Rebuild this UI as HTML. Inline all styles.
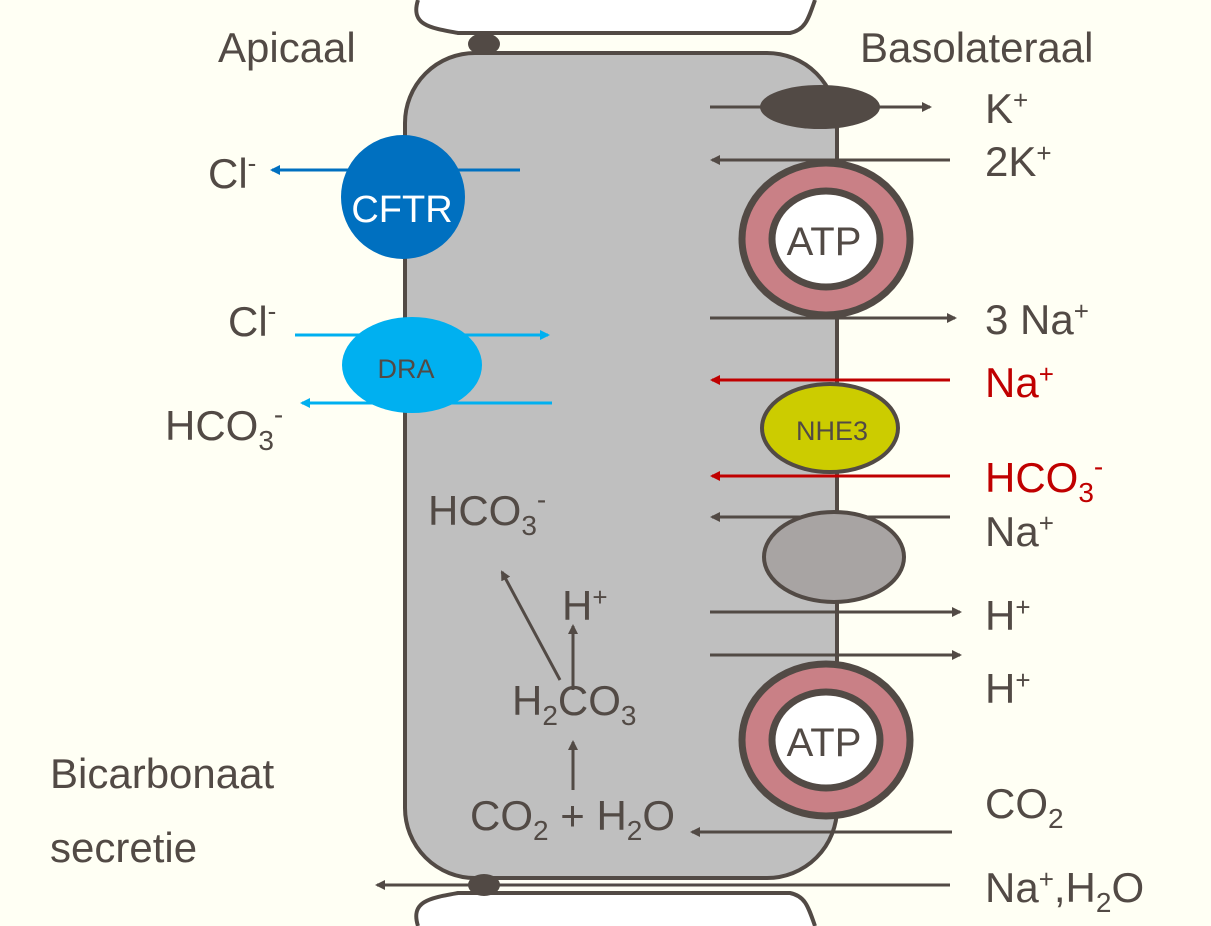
<!DOCTYPE html>
<html><head><meta charset="utf-8"><style>
body{margin:0;background:#fffff4}
svg{display:block}
text{font-family:"Liberation Sans",sans-serif;fill:#524a45}
</style></head><body>
<svg width="1211" height="926" viewBox="0 0 1211 926" xmlns="http://www.w3.org/2000/svg">
<defs>
<marker id="a" markerWidth="10" markerHeight="10" refX="8" refY="5" orient="auto" markerUnits="userSpaceOnUse"><path d="M0,0 L10,5 L0,10 Z" fill="#524a45"/></marker>
<marker id="r" markerWidth="10" markerHeight="10" refX="8" refY="5" orient="auto" markerUnits="userSpaceOnUse"><path d="M0,0 L10,5 L0,10 Z" fill="#c00000"/></marker>
<marker id="b" markerWidth="10" markerHeight="10" refX="8" refY="5" orient="auto" markerUnits="userSpaceOnUse"><path d="M0,0 L10,5 L0,10 Z" fill="#0070c0"/></marker>
<marker id="c" markerWidth="10" markerHeight="10" refX="8" refY="5" orient="auto" markerUnits="userSpaceOnUse"><path d="M0,0 L10,5 L0,10 Z" fill="#00b0f0"/></marker>
</defs>
<g stroke="#524a45" stroke-width="4" fill="#fff">
<path d="M418,0 C410,25 430,28 458,33 L790,33 C805,30 808,20 815,0"/>
<path d="M418,926 C410,901 430,898 458,893 L790,893 C805,896 808,906 815,926"/>
<rect x="405" y="53" width="432" height="825" rx="70" fill="#bfbfbf"/>
</g>
<ellipse cx="484" cy="44" rx="16" ry="11" fill="#524a45"/>
<ellipse cx="484" cy="885" rx="16" ry="11" fill="#524a45"/>
<g stroke="#524a45" stroke-width="3" fill="none">
<line x1="710" y1="107" x2="930" y2="107" marker-end="url(#a)"/>
<line x1="950" y1="160" x2="712" y2="160" marker-end="url(#a)"/>
<line x1="710" y1="318" x2="955" y2="318" marker-end="url(#a)"/>
<line x1="950" y1="517" x2="712" y2="517" marker-end="url(#a)"/>
<line x1="710" y1="612" x2="960" y2="612" marker-end="url(#a)"/>
<line x1="710" y1="655" x2="960" y2="655" marker-end="url(#a)"/>
<line x1="952" y1="832" x2="692" y2="832" marker-end="url(#a)"/>
<line x1="950" y1="885" x2="377" y2="885" marker-end="url(#a)"/>
<line x1="573" y1="790" x2="573" y2="742" marker-end="url(#a)"/>
<line x1="573" y1="690" x2="573" y2="626" marker-end="url(#a)"/>
<line x1="560" y1="680" x2="502" y2="572" marker-end="url(#a)"/>
</g>
<ellipse cx="820" cy="107" rx="60" ry="22" fill="#524a45"/>
<g stroke="#524a45" stroke-width="7">
<ellipse cx="826" cy="239" rx="84" ry="76" fill="#c98086"/>
<ellipse cx="826" cy="239" rx="54" ry="48" fill="#fff"/>
<ellipse cx="826" cy="740" rx="84" ry="76" fill="#c98086"/>
<ellipse cx="826" cy="740" rx="54" ry="48" fill="#fff"/>
</g>
<g stroke-width="3" fill="none">
<line x1="950" y1="380" x2="712" y2="380" stroke="#c00000" marker-end="url(#r)"/>
<line x1="950" y1="476" x2="712" y2="476" stroke="#c00000" marker-end="url(#r)"/>
</g>
<ellipse cx="830" cy="428" rx="68" ry="44" fill="#cccc00" stroke="#524a45" stroke-width="4"/>
<ellipse cx="834" cy="557" rx="70" ry="45" fill="#a8a4a3" stroke="#524a45" stroke-width="4"/>
<line x1="950" y1="380" x2="900" y2="380" stroke="#c00000" stroke-width="3"/>
<line x1="950" y1="476" x2="900" y2="476" stroke="#c00000" stroke-width="3"/>
<circle cx="403" cy="197" r="62" fill="#0070c0"/>
<line x1="520" y1="170" x2="272" y2="170" stroke="#0070c0" stroke-width="3" marker-end="url(#b)"/>
<ellipse cx="412" cy="365" rx="70" ry="48" fill="#00b0f0"/>
<line x1="295" y1="335" x2="548" y2="335" stroke="#00b0f0" stroke-width="3" marker-end="url(#c)"/>
<line x1="552" y1="403" x2="302" y2="403" stroke="#00b0f0" stroke-width="3" marker-end="url(#c)"/>
<g font-size="42">
<text x="218" y="62">Apicaal</text>
<text x="860" y="62">Basolateraal</text>
<text x="402" y="222" text-anchor="middle" font-size="38" style="fill:#fff">CFTR</text>
<text x="406" y="378" font-size="27" text-anchor="middle">DRA</text>
<text x="832" y="440" font-size="27" text-anchor="middle">NHE3</text>
<text x="824" y="255" font-size="40" text-anchor="middle">ATP</text>
<text x="824" y="756" font-size="40" text-anchor="middle">ATP</text>
<text x="208" y="188">Cl<tspan font-size="26" dy="-16">-</tspan></text>
<text x="228" y="336">Cl<tspan font-size="26" dy="-16">-</tspan></text>
<text x="165" y="440">HCO<tspan font-size="28" dy="10">3</tspan><tspan font-size="28" dy="-26">-</tspan></text>
<text x="428" y="525">HCO<tspan font-size="28" dy="10">3</tspan><tspan font-size="28" dy="-26">-</tspan></text>
<text x="562" y="620">H<tspan font-size="26" dy="-14">+</tspan></text>
<text x="512" y="715">H<tspan font-size="28" dy="10">2</tspan><tspan dy="-10">CO</tspan><tspan font-size="28" dy="10">3</tspan></text>
<text x="470" y="830">CO<tspan font-size="28" dy="10">2</tspan><tspan dy="-10"> + H</tspan><tspan font-size="28" dy="10">2</tspan><tspan dy="-10">O</tspan></text>
<text x="50" y="788">Bicarbonaat</text>
<text x="50" y="862">secretie</text>
<text x="985" y="123">K<tspan font-size="26" dy="-14">+</tspan></text>
<text x="985" y="176">2K<tspan font-size="26" dy="-14">+</tspan></text>
<text x="985" y="334">3 Na<tspan font-size="26" dy="-14">+</tspan></text>
<text x="985" y="397" style="fill:#c00000">Na<tspan font-size="26" dy="-14">+</tspan></text>
<text x="985" y="492" style="fill:#c00000">HCO<tspan font-size="28" dy="10">3</tspan><tspan font-size="28" dy="-26">-</tspan></text>
<text x="985" y="546">Na<tspan font-size="26" dy="-14">+</tspan></text>
<text x="985" y="630">H<tspan font-size="26" dy="-14">+</tspan></text>
<text x="985" y="703">H<tspan font-size="26" dy="-14">+</tspan></text>
<text x="985" y="818">CO<tspan font-size="28" dy="10">2</tspan></text>
<text x="985" y="902">Na<tspan font-size="26" dy="-14">+</tspan><tspan dy="14">,H</tspan><tspan font-size="28" dy="10">2</tspan><tspan dy="-10">O</tspan></text>
</g>
</svg>
</body></html>
